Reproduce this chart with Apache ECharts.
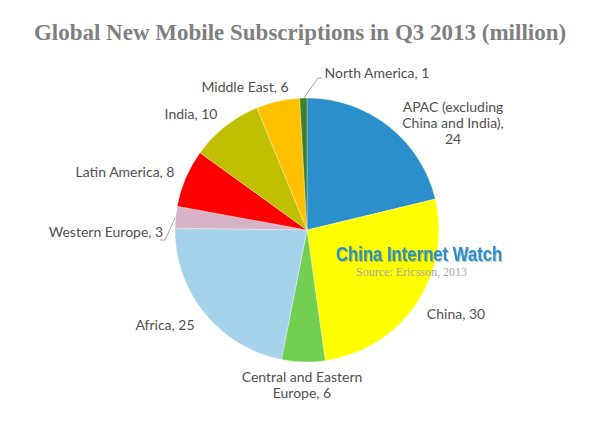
<!DOCTYPE html>
<html>
<head>
<meta charset="utf-8">
<style>
  html, body { margin: 0; padding: 0; background: #fff; }
  #chart { width: 600px; height: 424px; }
</style>
<script src="https://cdn.jsdelivr.net/npm/echarts@6/dist/echarts.min.js"></script>
</head>
<body>
<div id="chart"></div>
<script>
var categories = ['APAC (excluding\nChina and India),\n24', 'China, 30', 'Central and Eastern\nEurope, 6', 'Africa, 25', 'Western Europe, 3', 'Latin America, 8', 'India, 10', 'Middle East, 6', 'North America, 1'];
var values = [24, 30, 6, 25, 3, 8, 10, 6, 1];
var colors = ['#2b8fcb', '#ffff00', '#72cf52', '#a6d2ec', '#d8b2c6', '#ff0000', '#c0bf00', '#ffc000', '#3f8125'];

// label centres, by slice
var labelPos = [[453, 122], [456, 313], [302, 384], [165, 324], [106, 231], [125, 171], [191, 113], [245, 86], [377, 72]];
// leader lines, only two slices have one
var leaderLines = {
  4: [[175, 218], [165, 240], [160, 240]],
  8: [[304, 98], [318, 78], [322, 78]]
};

var chart = echarts.init(document.getElementById('chart'), null, { renderer: 'svg' });
chart.setOption({
  animation: false,
  backgroundColor: '#fff',
  title: {
    text: 'Global New Mobile Subscriptions in Q3 2013 (million)',
    left: 'center',
    top: 16,
    textStyle: { color: '#7f7f7f', fontFamily: 'Liberation Serif', fontWeight: 'bold', fontSize: 23 }
  },
  color: colors,
  series: [{
    type: 'pie',
    center: [307, 230],
    radius: [0, 132],
    startAngle: 90,
    clockwise: true,
    itemStyle: { borderColor: '#fff', borderWidth: 0.3 },
    label: {
      show: true,
      position: 'outside',
      color: '#505050',
      fontFamily: 'Lato',
      fontSize: 14,
      lineHeight: 16,
      align: 'center',
      verticalAlign: 'middle',
      formatter: function (p) { return p.name; }
    },
    labelLine: { show: true, length: 6, length2: 6, smooth: false, lineStyle: { color: '#a6a6a6', width: 1 } },
    labelLayout: function (p) {
      var layout = { x: labelPos[p.dataIndex][0], y: labelPos[p.dataIndex][1], align: 'center', verticalAlign: 'middle' };
      if (leaderLines[p.dataIndex]) layout.labelLinePoints = leaderLines[p.dataIndex];
      return layout;
    },
    data: values.map(function (v, i) {
      return { value: v, name: categories[i], labelLine: { show: !!leaderLines[i] } };
    })
  }],
  graphic: [
    {
      type: 'text', x: 336, y: 244, scaleX: 0.835, z: 100,
      style: {
        text: 'China Internet Watch', fill: '#2b8fcb',
        font: 'bold 20px "Liberation Sans"',
        textShadowColor: 'rgba(0,0,0,0.25)', textShadowBlur: 1, textShadowOffsetX: 1, textShadowOffsetY: 1
      }
    },
    {
      type: 'text', x: 356, y: 266, z: 100,
      style: { text: 'Source: Ericsson, 2013', fill: '#a6a6a6', font: '12px "Liberation Serif"' }
    }
  ]
});
</script>
</body>
</html>
